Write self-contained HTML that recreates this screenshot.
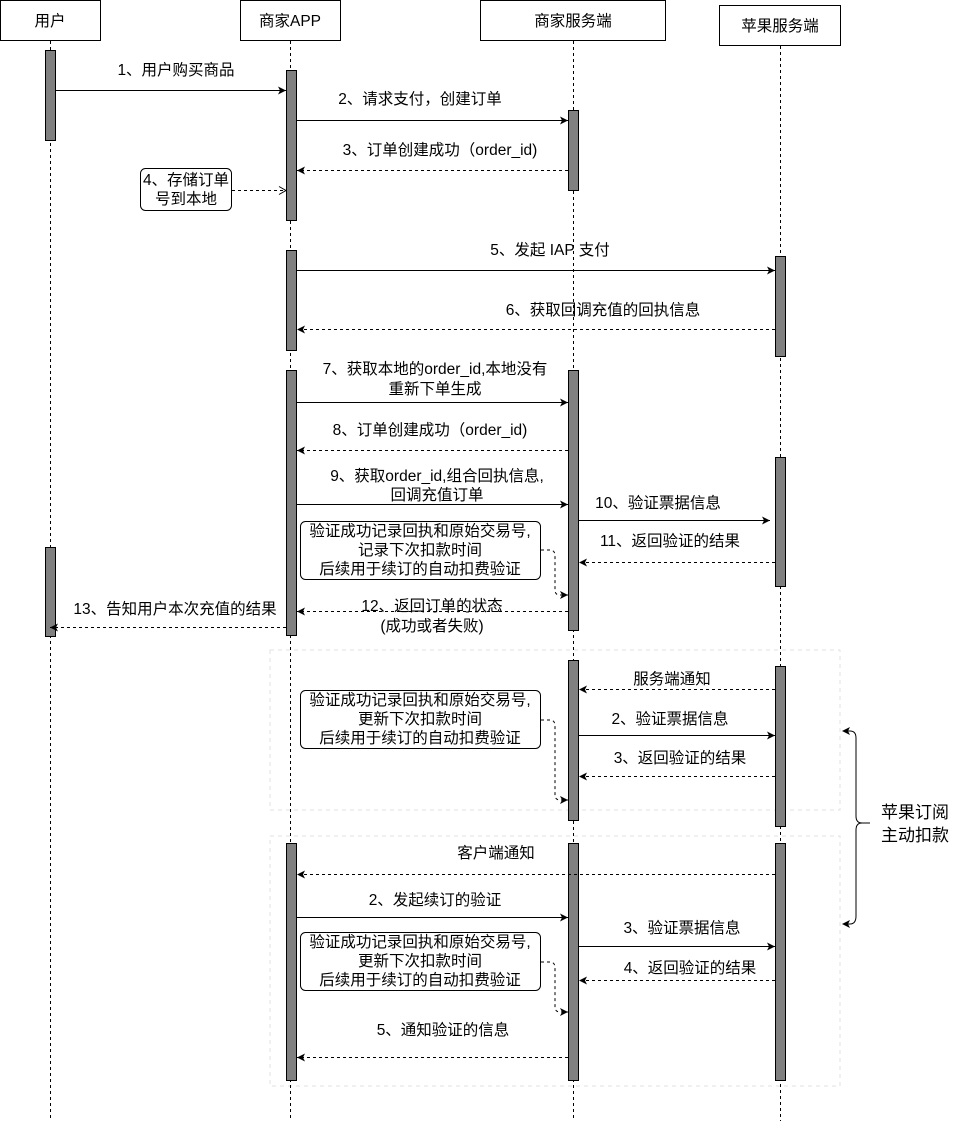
<!DOCTYPE html>
<html><head><meta charset="utf-8"><style>
html,body{margin:0;padding:0;background:#fff}
svg{display:block}
text{font-family:"Liberation Sans","Noto Sans CJK SC",sans-serif;font-size:15.5px;fill:#000;text-anchor:middle}
.l{stroke:#000;stroke-width:1;fill:none}
.d{stroke:#000;stroke-width:1;fill:none;stroke-dasharray:3,3}
.act{fill:#808080;stroke:#000;stroke-width:1}
.g{fill:none;stroke:#e2e2e2;stroke-dasharray:4,4}
</style></head><body>
<svg width="961" height="1121" viewBox="0 0 961 1121" xmlns="http://www.w3.org/2000/svg">
<defs>
<marker id="a" markerWidth="10" markerHeight="10" refX="8" refY="5" orient="auto" markerUnits="userSpaceOnUse"><path d="M0,1 L8,5 L0,9 L2,5 Z" fill="#000"/></marker>
<marker id="o" markerWidth="10" markerHeight="10" refX="8" refY="5" orient="auto" markerUnits="userSpaceOnUse"><path d="M1,1 L8,5 L1,9" fill="none" stroke="#000"/></marker>
</defs>
<rect class="g" x="270" y="650" width="570" height="160"/>
<rect class="g" x="270" y="836" width="570" height="250"/>
<rect x="0.5" y="0.5" width="100" height="40" fill="#fff" stroke="#000"/><text x="50" y="26">用户</text>
<rect x="240.5" y="0.5" width="100" height="40" fill="#fff" stroke="#000"/><text x="290" y="26">商家APP</text>
<rect x="480.5" y="0.5" width="185" height="40" fill="#fff" stroke="#000"/><text x="573" y="26">商家服务端</text>
<rect x="719.5" y="5.5" width="121" height="40" fill="#fff" stroke="#000"/><text x="780" y="31">苹果服务端</text>
<line class="d" x1="50.5" y1="41" x2="50.5" y2="1121"/>
<line class="d" x1="290.5" y1="41" x2="290.5" y2="1121"/>
<line class="d" x1="573.5" y1="41" x2="573.5" y2="1121"/>
<line class="d" x1="780.5" y1="46" x2="780.5" y2="1121"/>
<rect class="act" x="45.5" y="50.5" width="10" height="90"/>
<rect class="act" x="45.5" y="547.5" width="10" height="89"/>
<rect class="act" x="286.5" y="70.5" width="10" height="150"/>
<rect class="act" x="286.5" y="250.5" width="10" height="100"/>
<rect class="act" x="286.5" y="370.5" width="10" height="265"/>
<rect class="act" x="286.5" y="843.5" width="10" height="237"/>
<rect class="act" x="568.5" y="110.5" width="10" height="80"/>
<rect class="act" x="568.5" y="370.5" width="10" height="260"/>
<rect class="act" x="568.5" y="660.5" width="10" height="160"/>
<rect class="act" x="568.5" y="843.5" width="10" height="237"/>
<rect class="act" x="775.5" y="256.5" width="10" height="100"/>
<rect class="act" x="775.5" y="457.5" width="10" height="129"/>
<rect class="act" x="775.5" y="666.5" width="10" height="160"/>
<rect class="act" x="775.5" y="843.5" width="10" height="237"/>
<line class="l" x1="56" y1="90.5" x2="286" y2="90.5" marker-end="url(#a)"/><text x="176" y="75">1、用户购买商品</text>
<line class="l" x1="297" y1="120.5" x2="568" y2="120.5" marker-end="url(#a)"/><text x="420" y="104">2、请求支付，创建订单</text>
<line class="d" x1="568" y1="170.5" x2="297" y2="170.5" marker-end="url(#a)"/><text x="440" y="155">3、订单创建成功（order_id)</text>
<rect x="140.5" y="168.5" width="91" height="42" rx="5" fill="#fff" stroke="#000"/>
<text x="186" y="185">4、存储订单</text><text x="186" y="204">号到本地</text>
<line class="d" x1="232" y1="190.5" x2="286" y2="190.5" marker-end="url(#o)"/>
<line class="l" x1="297" y1="270.5" x2="775" y2="270.5" marker-end="url(#a)"/><text x="550" y="255">5、发起 IAP 支付</text>
<line class="d" x1="775" y1="329.5" x2="297" y2="329.5" marker-end="url(#a)"/><text x="603" y="315">6、获取回调充值的回执信息</text>
<line class="l" x1="297" y1="402.5" x2="568" y2="402.5" marker-end="url(#a)"/><text x="435" y="374">7、获取本地的order_id,本地没有</text><text x="435" y="394">重新下单生成</text>
<line class="d" x1="568" y1="450.5" x2="297" y2="450.5" marker-end="url(#a)"/><text x="430" y="435">8、订单创建成功（order_id)</text>
<line class="l" x1="297" y1="504.5" x2="568" y2="504.5" marker-end="url(#a)"/><text x="437" y="481">9、获取order_id,组合回执信息,</text><text x="437" y="500">回调充值订单</text>
<line class="l" x1="579" y1="520.5" x2="770" y2="520.5" marker-end="url(#a)"/><text x="658" y="508">10、验证票据信息</text>
<line class="d" x1="775" y1="562.5" x2="579" y2="562.5" marker-end="url(#a)"/><text x="670" y="546">11、返回验证的结果</text>
<rect x="300.5" y="521.5" width="240" height="58" rx="5" fill="#fff" stroke="#000"/>
<text x="420" y="536">验证成功记录回执和原始交易号,</text><text x="420" y="555">记录下次扣款时间</text><text x="420" y="574">后续用于续订的自动扣费验证</text>
<path class="d" d="M541,550 L550,550 Q555,550 555,556 L555,590 Q555,595 560,595 L568,595" marker-end="url(#a)"/>
<line class="d" x1="568" y1="611.5" x2="297" y2="611.5" marker-end="url(#a)"/><text x="432" y="611">12、返回订单的状态</text><text x="432" y="631">(成功或者失败)</text>
<line class="d" x1="286" y1="627.5" x2="50" y2="627.5" marker-end="url(#a)"/><text x="175" y="614">13、告知用户本次充值的结果</text>
<line class="d" x1="775" y1="689.5" x2="579" y2="689.5" marker-end="url(#a)"/><text x="672" y="684">服务端通知</text>
<rect x="300.5" y="690.5" width="240" height="58" rx="5" fill="#fff" stroke="#000"/>
<text x="420" y="705">验证成功记录回执和原始交易号,</text><text x="420" y="724">更新下次扣款时间</text><text x="420" y="743">后续用于续订的自动扣费验证</text>
<path class="d" d="M541,720 L550,720 Q555,720 555,726 L555,795 Q555,800 560,800 L568,800" marker-end="url(#a)"/>
<line class="l" x1="579" y1="735.5" x2="775" y2="735.5" marker-end="url(#a)"/><text x="670" y="724">2、验证票据信息</text>
<line class="d" x1="775" y1="776.5" x2="579" y2="776.5" marker-end="url(#a)"/><text x="680" y="763">3、返回验证的结果</text>
<line class="d" x1="775" y1="874.5" x2="297" y2="874.5" marker-end="url(#a)"/><text x="496" y="858">客户端通知</text>
<line class="l" x1="297" y1="917.5" x2="568" y2="917.5" marker-end="url(#a)"/><text x="435" y="905">2、发起续订的验证</text>
<line class="l" x1="579" y1="946.5" x2="775" y2="946.5" marker-end="url(#a)"/><text x="682" y="933">3、验证票据信息</text>
<line class="d" x1="775" y1="980.5" x2="579" y2="980.5" marker-end="url(#a)"/><text x="690" y="973">4、返回验证的结果</text>
<rect x="300.5" y="932.5" width="240" height="58" rx="5" fill="#fff" stroke="#000"/>
<text x="420" y="947">验证成功记录回执和原始交易号,</text><text x="420" y="966">更新下次扣款时间</text><text x="420" y="985">后续用于续订的自动扣费验证</text>
<path class="d" d="M541,962 L550,962 Q555,962 555,968 L555,1007 Q555,1012 560,1012 L568,1012" marker-end="url(#a)"/>
<line class="d" x1="568" y1="1057.5" x2="297" y2="1057.5" marker-end="url(#a)"/><text x="443" y="1035">5、通知验证的信息</text>
<path class="l" d="M843,731 L850,731 Q856,731 856,738 L856,816 Q856,823 862,823 L870,823 M862,823 Q856,823 856,830 L856,916 Q856,924 850,924 L843,924"/>
<path d="M842,731 L850,727 L848,731 L850,735 Z" fill="#000"/>
<path d="M842,924 L850,920 L848,924 L850,928 Z" fill="#000"/>
<text x="915" y="818" style="font-size:17px">苹果订阅</text><text x="915" y="841" style="font-size:17px">主动扣款</text>
</svg>
</body></html>
